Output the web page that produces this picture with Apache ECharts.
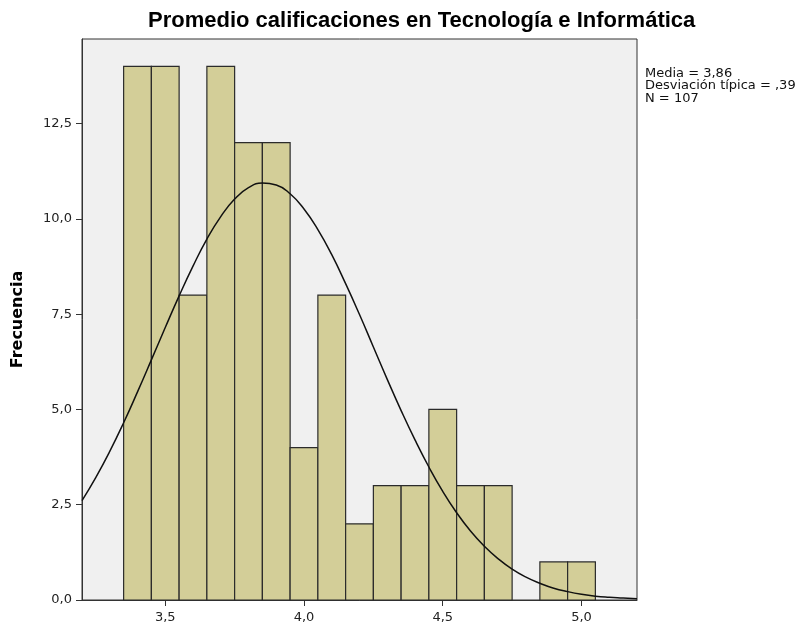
<!DOCTYPE html>
<html lang="es">
  <head>
    <meta charset="UTF-8" />
    <title>Promedio calificaciones en Tecnología e Informática</title>
    <script src="https://cdn.jsdelivr.net/npm/echarts@6/dist/echarts.min.js"></script>
    <style>
      html, body { margin: 0; padding: 0; background: #fff; }
      #chart { width: 799px; height: 629px; }
    </style>
  </head>
  <body>
    <div id="chart"></div>
    <script>
      // bin centres (width 0.1) and counts
      const binCenters = [3.4, 3.5, 3.6, 3.7, 3.8, 3.9, 4.0, 4.1, 4.2, 4.3, 4.4, 4.5, 4.6, 4.7, 4.8, 4.9, 5.0];
      const counts = [14, 14, 8, 14, 12, 12, 4, 8, 2, 3, 3, 5, 3, 3, 0, 1, 1];
      const binWidth = 0.1;

      // normal curve
      const curveX = [3.2, 3.25, 3.3, 3.35, 3.4, 3.45, 3.5, 3.55, 3.6, 3.65, 3.7, 3.75, 3.8, 3.85, 3.9, 3.95,
        4.0, 4.05, 4.1, 4.15, 4.2, 4.25, 4.3, 4.35, 4.4, 4.45, 4.5, 4.55, 4.6, 4.65, 4.7, 4.75,
        4.8, 4.85, 4.9, 4.95, 5.0, 5.05, 5.1, 5.15, 5.2];
      const curveY = [2.61, 3.22, 3.9, 4.65, 5.46, 6.3, 7.15, 7.98, 8.76, 9.47, 10.06, 10.52, 10.82, 10.94, 10.89, 10.66,
        10.26, 9.72, 9.06, 8.3, 7.49, 6.64, 5.79, 4.97, 4.2, 3.49, 2.85, 2.29, 1.81, 1.41, 1.08, 0.81,
        0.6, 0.44, 0.31, 0.22, 0.15, 0.1, 0.07, 0.05, 0.03];

      const xTicks = [3.5, 4.0, 4.5, 5.0];
      const yTicks = [0, 2.5, 5, 7.5, 10, 12.5];
      const statLines = ["Media = 3,86", "Desviación típica = ,39", "N = 107"];

      const fmt = (v) => Number(v).toFixed(1).replace(".", ",");

      const chart = echarts.init(document.getElementById("chart"));

      const option = {
        animation: false,
        backgroundColor: "#fff",
        title: {
          text: "Promedio calificaciones en Tecnología e Informática",
          left: 143,
          top: 5,
          textStyle: {
            fontFamily: "Liberation Sans",
            fontWeight: "bold",
            fontSize: 22,
            color: "#000",
          },
        },
        grid: {
          left: 82,
          right: 162,
          top: 39,
          bottom: 29,
          outerBoundsMode: "none",
          containLabel: false,
          show: true,
          backgroundColor: "#f0f0f0",
          borderColor: "#333",
          borderWidth: 1,
        },
        xAxis: {
          type: "value",
          min: 3.2,
          max: 5.2,
          splitLine: { show: false },
          axisLine: { show: true, onZero: false, lineStyle: { color: "#333", width: 1 } },
          axisTick: { show: true, length: 6, customValues: xTicks, lineStyle: { color: "#333" } },
          axisLabel: {
            customValues: xTicks,
            formatter: fmt,
            margin: 11,
            fontFamily: "DejaVu Sans",
            fontSize: 13,
            color: "#222",
          },
        },
        yAxis: {
          type: "value",
          min: 0,
          max: 14.72,
          name: "Frecuencia",
          nameLocation: "middle",
          nameRotate: 90,
          nameGap: 56,
          nameTextStyle: {
            fontFamily: "DejaVu Sans",
            fontWeight: "bold",
            fontSize: 16,
            color: "#000",
          },
          splitLine: { show: false },
          axisLine: { show: true, lineStyle: { color: "#333", width: 1 } },
          axisTick: { show: true, length: 6, customValues: yTicks, lineStyle: { color: "#333" } },
          axisLabel: {
            customValues: yTicks,
            formatter: fmt,
            margin: 10,
            fontFamily: "DejaVu Sans",
            fontSize: 13,
            color: "#222",
          },
        },
        graphic: [
          {
            type: "text",
            left: 645,
            top: 67,
            style: {
              text: statLines.join("\n"),
              font: "13px DejaVu Sans",
              lineHeight: 12.5,
              fill: "#111",
            },
          },
        ],
        series: [
          {
            type: "custom",
            data: binCenters.map((c, i) => [c, counts[i]]),
            renderItem: function (params, api) {
              const c = api.value(0);
              const n = api.value(1);
              if (!n) return null;
              const p0 = api.coord([c - binWidth / 2, n]);
              const p1 = api.coord([c + binWidth / 2, 0]);
              return {
                type: "rect",
                shape: { x: p0[0], y: p0[1], width: p1[0] - p0[0], height: p1[1] - p0[1] },
                style: { fill: "#d3ce98", stroke: "#2b2b2b", lineWidth: 1.2 },
              };
            },
            z: 2,
          },
          {
            type: "line",
            data: curveX.map((x, i) => [x, curveY[i]]),
            smooth: 0.5,
            symbol: "none",
            lineStyle: { color: "#111", width: 1.5 },
            z: 3,
          },
        ],
      };

      chart.setOption(option);
    </script>
  </body>
</html>
